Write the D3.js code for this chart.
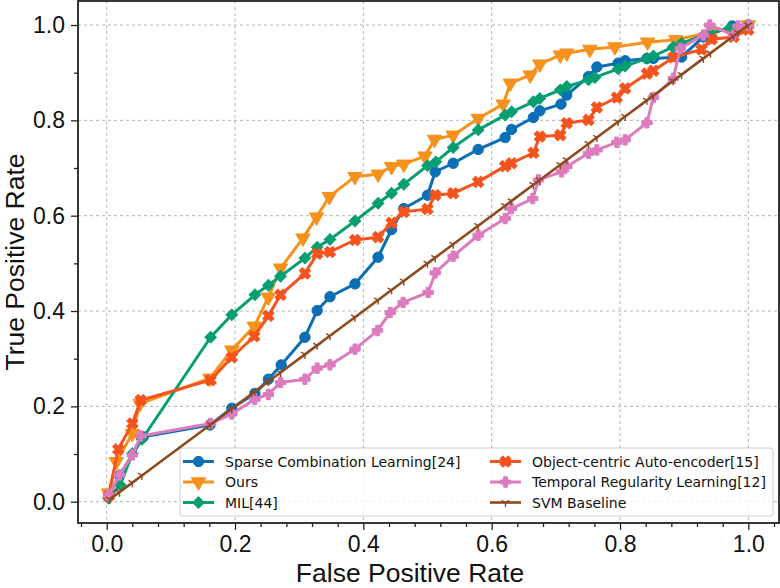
<!DOCTYPE html>
<html>
<head>
<meta charset="utf-8">
<script src="https://cdn.jsdelivr.net/npm/d3@7"></script>
<style>
  body { margin: 0; background: #fff; }
</style>
</head>
<body>
<div id="chart"></div>
<script>
// ROC points
const fprSparse = [0.003,0.020,0.057,0.161,0.195,0.231,0.252,0.272,0.309,0.328,0.348,0.387,0.423,0.444,0.463,0.500,0.512,0.540,0.579,0.621,0.631,0.665,0.675,0.708,0.717,0.751,0.764,0.797,0.808,0.842,0.852,0.896,0.930,0.975,1.0];
const tprSparse = [0.014,0.055,0.136,0.161,0.196,0.227,0.257,0.287,0.345,0.401,0.430,0.457,0.513,0.571,0.615,0.643,0.692,0.710,0.739,0.764,0.781,0.806,0.820,0.834,0.853,0.892,0.912,0.920,0.925,0.930,0.930,0.933,0.975,0.998,1.0];

const fprOurs = [0.003,0.015,0.040,0.052,0.161,0.195,0.230,0.252,0.271,0.306,0.327,0.347,0.387,0.423,0.444,0.463,0.496,0.511,0.540,0.579,0.618,0.629,0.660,0.675,0.707,0.717,0.753,0.792,0.843,0.887,0.945,1.0];
const tprOurs = [0.018,0.084,0.143,0.206,0.259,0.318,0.368,0.429,0.490,0.553,0.597,0.640,0.682,0.687,0.703,0.708,0.725,0.760,0.769,0.804,0.834,0.878,0.895,0.918,0.937,0.941,0.949,0.954,0.964,0.969,0.986,1.0];

const fprMil = [0.003,0.021,0.040,0.055,0.162,0.195,0.231,0.252,0.271,0.309,0.328,0.348,0.387,0.423,0.444,0.463,0.500,0.513,0.540,0.579,0.621,0.631,0.665,0.675,0.707,0.717,0.751,0.761,0.797,0.808,0.842,0.852,0.883,0.896,0.940,0.971,1.0];
const tprMil = [0.007,0.035,0.101,0.131,0.345,0.392,0.434,0.454,0.473,0.511,0.534,0.550,0.589,0.626,0.647,0.666,0.705,0.713,0.743,0.780,0.811,0.818,0.839,0.846,0.864,0.871,0.885,0.890,0.908,0.914,0.930,0.935,0.954,0.962,0.983,0.993,1.0];

const fprObj = [0.003,0.018,0.040,0.053,0.162,0.195,0.230,0.252,0.271,0.309,0.328,0.348,0.387,0.423,0.444,0.463,0.500,0.512,0.540,0.579,0.621,0.631,0.665,0.675,0.707,0.717,0.751,0.764,0.795,0.808,0.842,0.852,0.883,0.927,0.943,0.977,1.0];
const tprObj = [0.012,0.110,0.164,0.213,0.255,0.303,0.347,0.390,0.434,0.479,0.520,0.524,0.549,0.555,0.585,0.608,0.614,0.643,0.647,0.671,0.704,0.710,0.732,0.766,0.769,0.794,0.801,0.827,0.848,0.867,0.898,0.904,0.932,0.949,0.970,0.975,0.990];

const fprTemp = [0.003,0.020,0.040,0.053,0.162,0.195,0.231,0.252,0.271,0.309,0.328,0.348,0.387,0.422,0.442,0.462,0.501,0.512,0.540,0.579,0.621,0.631,0.664,0.673,0.709,0.717,0.751,0.764,0.795,0.808,0.842,0.852,0.883,0.894,0.930,0.940,0.977,0.984,1.0];
const tprTemp = [0.014,0.056,0.098,0.138,0.164,0.184,0.215,0.225,0.250,0.257,0.280,0.287,0.320,0.359,0.397,0.418,0.439,0.480,0.515,0.559,0.594,0.615,0.636,0.675,0.692,0.703,0.731,0.738,0.754,0.759,0.795,0.848,0.888,0.951,0.979,1.0,0.979,0.998,1.0];

const fprSvm = [0.005,0.020,0.040,0.055,0.162,0.195,0.231,0.252,0.271,0.309,0.328,0.348,0.387,0.423,0.444,0.463,0.500,0.512,0.540,0.579,0.621,0.631,0.665,0.675,0.707,0.717,0.751,0.764,0.797,0.808,0.842,0.852,0.883,0.896,0.930,0.941,0.977,0.984,1.0];
const tprSvm = [0.005,0.020,0.040,0.055,0.162,0.195,0.231,0.252,0.271,0.309,0.328,0.348,0.387,0.423,0.444,0.463,0.500,0.512,0.540,0.579,0.621,0.631,0.665,0.675,0.707,0.717,0.751,0.764,0.797,0.808,0.842,0.852,0.883,0.896,0.930,0.941,0.977,0.984,1.0];

const seriesNames = ["Sparse Combination Learning[24]", "Ours", "MIL[44]",
                     "Object-centric Auto-encoder[15]", "Temporal Regularity Learning[12]", "SVM Baseline"];

const xTicks = [0.0, 0.2, 0.4, 0.6, 0.8, 1.0];
const xMinor = [-0.04,0.04,0.08,0.12,0.16,0.24,0.28,0.32,0.36,0.44,0.48,0.52,0.56,0.64,0.68,0.72,0.76,0.84,0.88,0.92,0.96,1.04];
const yTicks = [0.0, 0.2, 0.4, 0.6, 0.8, 1.0];
const yMinor = [0.1, 0.3, 0.5, 0.7, 0.9];

const margin = {top: 1, right: 1, bottom: 65, left: 78},
    width = 780 - margin.left - margin.right,
    height = 588 - margin.top - margin.bottom;

const svg = d3.select("#chart")
  .append("svg")
    .attr("width", 780)
    .attr("height", 588)
    .style("font-family", "'Liberation Sans', Arial, sans-serif");

const g = svg.append("g")
    .attr("transform", "translate(" + margin.left + "," + margin.top + ")");

const x = d3.scaleLinear().domain([-0.0447, 1.0478]).range([0, width]);
const y = d3.scaleLinear().domain([-0.0447, 1.0504]).range([height, 0]);

// grid
g.append("g").selectAll("line").data(xTicks).enter().append("line")
    .attr("x1", d => x(d)).attr("x2", d => x(d))
    .attr("y1", 0).attr("y2", height)
    .attr("stroke", "#b4b4b4").attr("stroke-width", 1).attr("stroke-dasharray", "3,3");
g.append("g").selectAll("line").data(yTicks).enter().append("line")
    .attr("y1", d => y(d)).attr("y2", d => y(d))
    .attr("x1", 0).attr("x2", width)
    .attr("stroke", "#b4b4b4").attr("stroke-width", 1).attr("stroke-dasharray", "3,3");

// axes
g.append("g")
    .attr("transform", "translate(0," + height + ")")
    .call(d3.axisBottom(x).tickValues(xTicks).tickFormat(d3.format(".1f")).tickSize(7).tickPadding(6));
g.append("g")
    .attr("transform", "translate(0," + height + ")")
    .call(d3.axisBottom(x).tickValues(xMinor).tickFormat("").tickSize(4))
    .select(".domain").remove();
g.append("g")
    .call(d3.axisLeft(y).tickValues(yTicks).tickFormat(d3.format(".1f")).tickSize(7).tickPadding(6));
g.append("g")
    .call(d3.axisLeft(y).tickValues(yMinor).tickFormat("").tickSize(4))
    .select(".domain").remove();

g.selectAll(".tick line").attr("stroke", "#222").attr("stroke-width", 1.3);
g.selectAll(".tick text").style("font-size", "23px").style("font-family", "'Liberation Sans', Arial, sans-serif").attr("fill", "#111");
g.selectAll(".domain").remove();

// frame
g.append("rect")
    .attr("x", 0).attr("y", 0).attr("width", width).attr("height", height)
    .attr("fill", "none").attr("stroke", "#222").attr("stroke-width", 1.8);

// marker shapes
function plusPath(a, b) {
  return "M" + (-b) + "," + (-a) + "H" + b + "V" + (-b) + "H" + a + "V" + b + "H" + b + "V" + a +
         "H" + (-b) + "V" + b + "H" + (-a) + "V" + (-b) + "H" + (-b) + "Z";
}
const markers = {
  circle:  {d: d3.symbol(d3.symbolCircle, 85)(), rot: 0, fill: true},
  tri:     {d: d3.symbol(d3.symbolTriangle, 90)(), rot: 180, fill: true},
  diamond: {d: d3.symbol(d3.symbolSquare, 66)(), rot: 45, fill: true},
  xfill:   {d: plusPath(5.8, 2.1), rot: 45, fill: true},
  pfill:   {d: plusPath(5.2, 2.0), rot: 0, fill: true},
  tri1:    {d: "M0,0V4.5M0,0L-3.9,-2.25M0,0L3.9,-2.25", rot: 0, fill: false}
};

const series = [
  {name: seriesNames[0], xs: fprSparse, ys: tprSparse, color: "#0a6fb5", marker: "circle", lw: 3},
  {name: seriesNames[1], xs: fprOurs,   ys: tprOurs,   color: "#f5911c", marker: "tri", lw: 3},
  {name: seriesNames[2], xs: fprMil,    ys: tprMil,    color: "#079e72", marker: "diamond", lw: 3},
  {name: seriesNames[3], xs: fprObj,    ys: tprObj,    color: "#f5531d", marker: "xfill", lw: 3},
  {name: seriesNames[4], xs: fprTemp,   ys: tprTemp,   color: "#dc7bbd", marker: "pfill", lw: 3},
  {name: seriesNames[5], xs: fprSvm,    ys: tprSvm,    color: "#8e4a1f", marker: "tri1", lw: 2.6}
];

const line = d3.line().x(d => x(d[0])).y(d => y(d[1]));

series.forEach(function(s) {
  const pts = s.xs.map((v, i) => [v, s.ys[i]]);
  const sg = g.append("g");
  sg.append("path")
    .datum(pts)
    .attr("d", line)
    .attr("fill", "none")
    .attr("stroke", s.color)
    .attr("stroke-width", s.lw)
    .attr("stroke-linejoin", "round");
  const m = markers[s.marker];
  sg.selectAll(".mk")
    .data(pts)
    .enter()
    .append("path")
    .attr("d", m.d)
    .attr("transform", d => "translate(" + x(d[0]) + "," + y(d[1]) + ") rotate(" + m.rot + ")")
    .attr("fill", m.fill ? s.color : "none")
    .attr("stroke", s.color)
    .attr("stroke-width", m.fill ? 1 : 1.4);
});

// axis labels
svg.append("text")
    .attr("x", 410).attr("y", 582)
    .attr("text-anchor", "middle")
    .style("font-size", "26.5px")
    .attr("fill", "#111")
    .text("False Positive Rate");
svg.append("text")
    .attr("transform", "translate(24," + (margin.top + height / 2) + ") rotate(-90)")
    .attr("text-anchor", "middle")
    .style("font-size", "26.5px")
    .attr("fill", "#111")
    .text("True Positive Rate");

// legend
const leg = svg.append("g");
leg.append("rect")
    .attr("x", 180).attr("y", 448).attr("width", 593).attr("height", 68)
    .attr("rx", 3)
    .attr("fill", "#fff").attr("fill-opacity", 0.8)
    .attr("stroke", "#cccccc").attr("stroke-width", 1);

const legCols = [183, 490];
const legRows = [461.5, 482, 502.5];
series.forEach(function(s, i) {
  const lx = legCols[Math.floor(i / 3)], ly = legRows[i % 3];
  const m = markers[s.marker];
  leg.append("line")
    .attr("x1", lx).attr("x2", lx + 31)
    .attr("y1", ly).attr("y2", ly)
    .attr("stroke", s.color).attr("stroke-width", s.lw);
  leg.append("path")
    .attr("d", m.d)
    .attr("transform", "translate(" + (lx + 15.5) + "," + ly + ") rotate(" + m.rot + ")")
    .attr("fill", m.fill ? s.color : "none")
    .attr("stroke", s.color)
    .attr("stroke-width", m.fill ? 1 : 1.4);
  leg.append("text")
    .attr("x", lx + 42).attr("y", ly + 5)
    .style("font-family", "'DejaVu Sans', sans-serif")
    .style("font-size", "14px")
    .attr("fill", "#111")
    .text(s.name);
});
</script>
</body>
</html>
